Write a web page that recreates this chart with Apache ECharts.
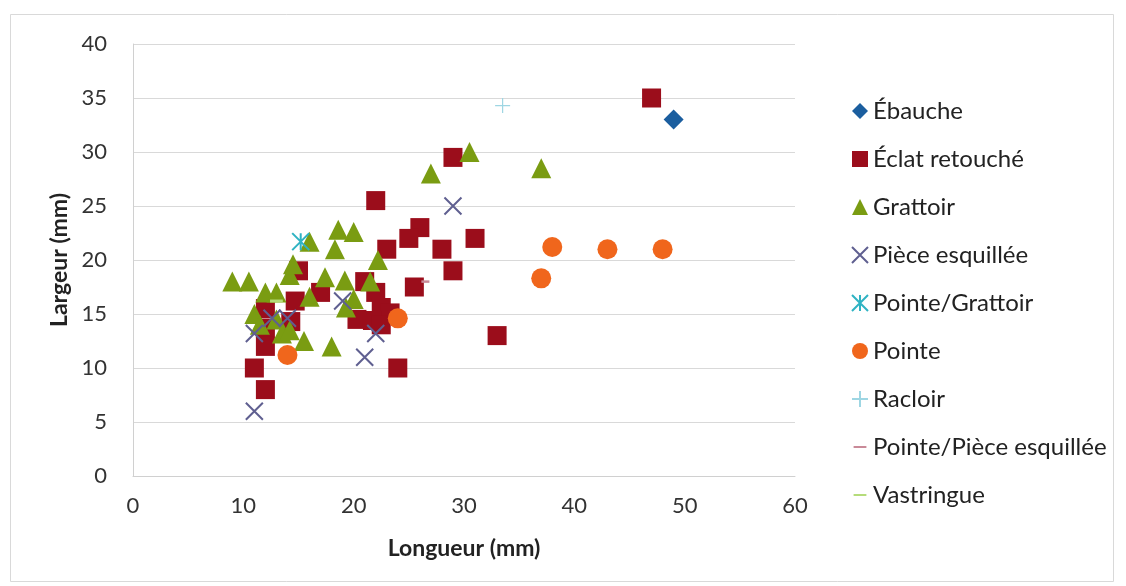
<!DOCTYPE html>
<html><head><meta charset="utf-8">
<script src="https://cdn.jsdelivr.net/npm/echarts@6/dist/echarts.min.js"></script>
<style>html,body{margin:0;padding:0;background:#fff}#c{width:1126px;height:586px}</style>
</head><body><div id="c"></div>
<script>
const xTicks = [0,10,20,30,40,50,60];
const yTicks = [0,5,10,15,20,25,30,35,40];
const ebauche = [[49,33]];
const eclatRetouche = [[47,35],[29,29.5],[22,25.5],[26,23],[25,22],[31,22],[23,21],[28,21],[29,19],[25.5,17.5],[33,13],[24,10],[15,19],[14.7,16.2],[17,17],[21,18],[22,17],[22.5,15.6],[23.3,15.1],[20.3,14.5],[21.7,14.4],[22.5,14],[12,15.5],[12,13.7],[12,12],[11,10],[12,8],[14.3,14.3]];
const grattoir = [[9,18],[10.5,18],[11,15],[11.5,14],[12,17],[13,17],[13,14.5],[13.5,13.2],[14.2,13.5],[14.2,18.6],[14.5,19.6],[15.5,12.5],[16,21.7],[16,16.6],[17.4,18.4],[18,12],[18.3,21],[18.6,22.8],[20,22.6],[19.2,18.1],[19.3,15.6],[20,16.4],[21.5,18],[22.2,20],[27,28],[30.5,30],[37,28.5]];
const pieceEsquillee = [[11,6],[11,13.2],[12.6,14.6],[14,14.6],[19,16.2],[21,11],[22,13.2],[29,25]];
const pointeGrattoir = [[15.2,21.7]];
const pointe = [[14,11.2],[24,14.6],[37,18.3],[38,21.2],[43,21],[48,21]];
const racloir = [[33.5,34.3]];
const pointePiece = [[26.5,18]];
const vastringue = [[13,16.2]];

const FONT = 'Lato';
const X_PATH = 'path://M0,0L10,10M10,0L0,10';
const AST_PATH = 'path://M0,0L10,10M10,0L0,10M5,0L5,10';
const PLUS_PATH = 'path://M5,0L5,10M0,5L10,5';
const DASH_PATH = 'path://M0,0M10,10M1,5L9,5';

function strokeSeries(name, data, path, size, color, width) {
  return {name, type:'scatter', data, symbol:path, symbolSize:size,
    itemStyle:{color:'rgba(0,0,0,0)', borderColor:color, borderWidth:width, opacity:1}};
}

const chart = echarts.init(document.getElementById('c'), null, {renderer:'canvas'});
chart.setOption({
  animation:false,
  backgroundColor:'#fff',
  graphic:[{type:'rect', shape:{x:10.5,y:14.5,width:1103,height:567}, style:{fill:'none', stroke:'#d9d9d9', lineWidth:1}, silent:true, z:-1}],
  grid:{left:133, right:331, top:44, bottom:110},
  xAxis:{type:'value', min:0, max:60, interval:10,
    name:'Longueur (mm)', nameLocation:'middle', nameGap:61,
    nameTextStyle:{fontFamily:FONT, fontWeight:'bold', fontSize:23, color:'#222'},
    axisLine:{show:true, lineStyle:{color:'#d0d0d0'}}, axisTick:{show:false},
    axisLabel:{fontFamily:FONT, fontSize:22, color:'#333', margin:19},
    splitLine:{show:false}},
  yAxis:{type:'value', min:0, max:40, interval:5,
    name:'Largeur (mm)', nameLocation:'middle', nameGap:59,
    nameTextStyle:{fontFamily:FONT, fontWeight:'bold', fontSize:23, color:'#222'},
    axisLine:{show:true, lineStyle:{color:'#d0d0d0'}}, axisTick:{show:false},
    axisLabel:{fontFamily:FONT, fontSize:22, color:'#333', margin:26},
    splitLine:{show:true, lineStyle:{color:'#d9d9d9', width:1}}},
  legend:{orient:'vertical', left:851, top:99, padding:0, itemWidth:16, itemHeight:16, itemGap:24, itemTextGap:6,
    textStyle:{fontFamily:FONT, fontSize:24, color:'#222', lineHeight:24},
    data:['Ébauche','Éclat retouché','Grattoir','Pièce esquillée','Pointe/Grattoir','Pointe','Racloir','Pointe/Pièce esquillée','Vastringue']},
  series:[
    {name:'Éclat retouché', type:'scatter', data:eclatRetouche, symbol:'rect', symbolSize:19, itemStyle:{color:'#9b0d1b', opacity:1}},
    {name:'Grattoir', type:'scatter', data:grattoir, symbol:'triangle', symbolSize:20, itemStyle:{color:'#7a9c12', opacity:1}},
    strokeSeries('Pièce esquillée', pieceEsquillee, X_PATH, 17, '#5f5f90', 2),
    strokeSeries('Pointe/Grattoir', pointeGrattoir, AST_PATH, 17, '#2fb3c3', 2),
    {name:'Pointe', type:'scatter', data:pointe, symbol:'circle', symbolSize:20, itemStyle:{color:'#f0661c', opacity:1}},
    strokeSeries('Racloir', racloir, PLUS_PATH, 15, '#9ed6e3', 1.2),
    strokeSeries('Pointe/Pièce esquillée', pointePiece, DASH_PATH, 10, '#c98a98', 2.5),
    strokeSeries('Vastringue', vastringue, DASH_PATH, 16, '#b5dc7a', 3),
    {name:'Ébauche', type:'scatter', data:ebauche, symbol:'diamond', symbolSize:20, itemStyle:{color:'#1b5e9f', opacity:1}}
  ]
});
</script></body></html>
